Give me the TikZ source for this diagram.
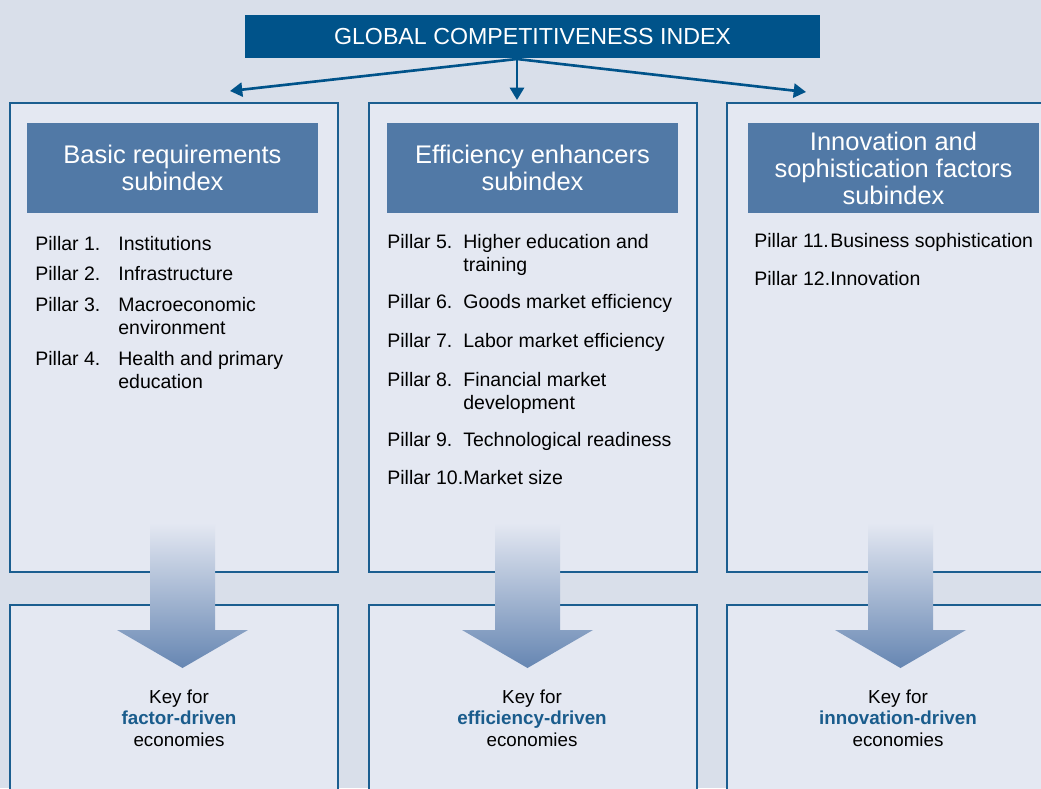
\documentclass[tikz,border=0pt]{standalone}
\usepackage{fontspec}
\setmainfont{Liberation Sans}
\usepackage{xcolor}
\usetikzlibrary{arrows.meta,positioning}

\definecolor{bgcol}{HTML}{D9DFEA}
\definecolor{boxfill}{HTML}{E4E8F2}
\definecolor{boxline}{HTML}{1B5E90}
\definecolor{gcifill}{HTML}{00538A}
\definecolor{subfill}{HTML}{5179A6}
\definecolor{keyblue}{HTML}{1A5C8C}
\definecolor{arrtop}{HTML}{E4E8F2}
\definecolor{arrbot}{HTML}{6686B2}

\begin{document}
\begin{tikzpicture}[
    % GLOBAL CFG
    x=0.02cm, y=-0.02cm,
    >={Triangle[length=7pt,width=8pt]},
    % Styles
    cell/.style={% For the pillar boxes
        draw=boxline,
        fill=boxfill,
        line width=1.1pt,
        },
    gcibox/.style={% For the index on top
        rectangle,
        fill=gcifill,
        text=white,
        minimum width=11.5cm,
        minimum height=0.86cm,
        font=\fontsize{13.2}{15}\selectfont,
        },
    subbox/.style={% For the three subindexes
        rectangle,
        fill=subfill,
        text=white,
        align=center,
        minimum width=5.82cm,
        minimum height=1.8cm,
        inner sep=0pt,
        font=\fontsize{14.5}{15.4}\selectfont,
        },
    pnum/.style={% Pillar numbers
        anchor=base west,
        inner sep=0pt,
        font=\fontsize{11.1}{13}\selectfont,
        },
    pdesc/.style={% Pillar names (base = last line)
        anchor=base west,
        inner sep=0pt,
        align=left,
        font=\fontsize{11.1}{13}\selectfont,
        },
    keytext/.style={% Text in the lower boxes
        align=center,
        font=\fontsize{10.7}{12.2}\selectfont,
        },
    keyarrow/.style={% Big shaded arrows
        top color=arrtop,
        bottom color=arrbot,
        },
    link/.style={% Arrows from the index
        ->,
        draw=gcifill,
        line width=1.5pt,
        },
    ]

    % Page and background
    \useasboundingbox (0,0) rectangle (1041,788);
    \clip (0,0) rectangle (1041,788);
    \fill[bgcol] (0,0) rectangle (1041,788);

    % Draw the boxes (right and lower ones run off the page)
    \draw[cell] (10,103) rectangle (338,572);
    \draw[cell] (369,103) rectangle (697,572);
    \draw[cell] (727,103) rectangle (1060,572);
    \draw[cell] (10,605) rectangle (338,800);
    \draw[cell] (369,605) rectangle (697,800);
    \draw[cell] (727,605) rectangle (1060,800);

    % Draw the index and its arrows
    \node[gcibox] (gci) at (532.5,36.5) {GLOBAL COMPETITIVENESS INDEX};
    \coordinate (junc) at (517,59);
    \coordinate (tipL) at (230,91);
    \coordinate (tipM) at (517,100);
    \coordinate (tipR) at (806,92);
    \draw[link] (junc) -- (tipL);
    \draw[link] (junc) -- (tipM);
    \draw[link] (junc) -- (tipR);

    % Draw the subindexes
    \node[subbox] (basic) at (172.5,168) {Basic requirements\\subindex};
    \node[subbox] (effic) at (532.5,168) {Efficiency enhancers\\subindex};
    \node[subbox] (innov) at (893.5,168) {Innovation and\\sophistication factors\\subindex};

    % Pillars named n# and d#
    \node[pnum] (n1) at (35,250) {Pillar 1.};
    \node[pdesc] (d1) at (118,250) {Institutions};
    \node[pnum] (n2) at (35,280) {Pillar 2.};
    \node[pdesc] (d2) at (118,280) {Infrastructure};
    \node[pnum] (n3) at (35,311) {Pillar 3.};
    \node[pdesc] (d3) at (118,334) {Macroeconomic\\environment};
    \node[pnum] (n4) at (35,365) {Pillar 4.};
    \node[pdesc] (d4) at (118,388) {Health and primary\\education};

    \node[pnum] (n5) at (387,248) {Pillar 5.};
    \node[pdesc] (d5) at (463,271) {Higher education and\\training};
    \node[pnum] (n6) at (387,308) {Pillar 6.};
    \node[pdesc] (d6) at (463,308) {Goods market efficiency};
    \node[pnum] (n7) at (387,347) {Pillar 7.};
    \node[pdesc] (d7) at (463,347) {Labor market efficiency};
    \node[pnum] (n8) at (387,386) {Pillar 8.};
    \node[pdesc] (d8) at (463,409) {Financial market\\development};
    \node[pnum] (n9) at (387,446) {Pillar 9.};
    \node[pdesc] (d9) at (463,446) {Technological readiness};
    \node[pnum] (n10) at (387,484) {Pillar 10.};
    \node[pdesc] (d10) at (463,484) {Market size};

    \node[pnum] (n11) at (754,247) {Pillar 11.};
    \node[pdesc] (d11) at (830,247) {Business sophistication};
    \node[pnum] (n12) at (754,285) {Pillar 12.};
    \node[pdesc] (d12) at (830,285) {Innovation};

    % Big arrows down to the keys
    \path[keyarrow] (150,523) -- ++(65,0) -- ++(0,107) -- ++(33,0)
        -- (182.5,668) -- (117,630) -- ++(33,0) -- cycle;
    \path[keyarrow] (495,523) -- ++(65,0) -- ++(0,107) -- ++(33,0)
        -- (527.5,668) -- (462,630) -- ++(33,0) -- cycle;
    \path[keyarrow] (868,523) -- ++(65,0) -- ++(0,107) -- ++(33,0)
        -- (900.5,668) -- (835,630) -- ++(33,0) -- cycle;

    % Keys
    \node[keytext] (kfac) at (179,718) {Key for\\\textcolor{keyblue}{\bfseries factor-driven}\\economies};
    \node[keytext] (keff) at (532,718) {Key for\\\textcolor{keyblue}{\bfseries efficiency-driven}\\economies};
    \node[keytext] (kinn) at (898,718) {Key for\\\textcolor{keyblue}{\bfseries innovation-driven}\\economies};

\end{tikzpicture}
\end{document}
